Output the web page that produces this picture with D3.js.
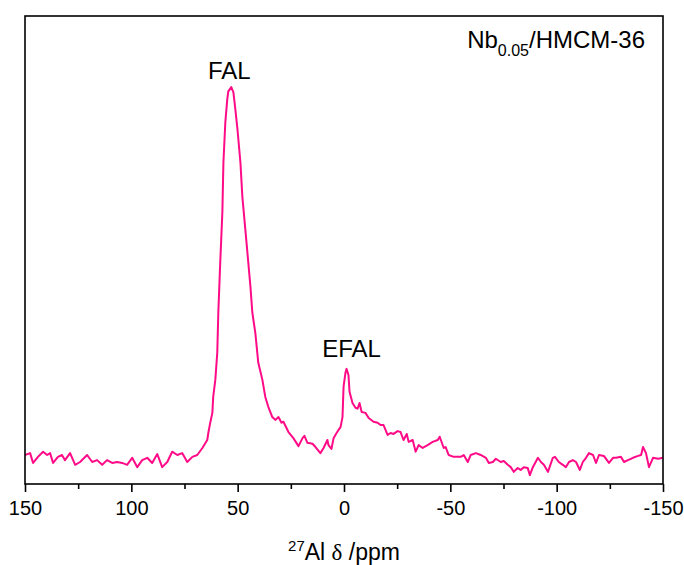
<!DOCTYPE html>
<html>
<head>
<meta charset="utf-8">
<script src="https://cdn.jsdelivr.net/npm/d3@7/dist/d3.min.js"></script>
<style>
  html, body { margin: 0; padding: 0; background: #ffffff; }
  svg { display: block; font-family: "Liberation Sans", Arial, sans-serif; }
</style>
</head>
<body>
<svg id="chart" width="684" height="565"></svg>
<script>
// 27Al MAS NMR spectrum of Nb0.05/HMCM-36
const shiftPpm = [
  150.0, 147.6, 146.2, 143.9, 141.5, 139.6, 138.2, 136.8, 134.5, 132.6,
  131.2, 128.8, 126.4, 124.1, 120.8, 118.4, 116.1, 113.7, 111.4, 109.0,
  106.7, 104.3, 102.0, 99.6, 97.2, 94.9, 92.5, 90.2, 87.8, 85.5,
  83.1, 80.8, 78.4, 76.1, 73.7, 71.3, 69.0, 66.6, 64.3, 63.8,
  62.9, 61.9, 61.5, 60.5, 59.6, 59.1, 58.2, 57.2, 56.7, 55.8,
  54.9, 54.4, 53.0, 52.0, 51.1, 50.1, 48.7, 47.8, 46.4, 45.0,
  44.0, 43.1, 41.7, 40.3, 38.4, 37.0, 35.6, 33.7, 32.2, 30.8,
  29.4, 28.5, 26.1, 23.8, 21.4, 19.5, 18.6, 17.2, 14.8, 13.4,
  11.1, 9.6, 7.8, 7.3, 5.9, 4.9, 3.5, 1.6, 0.7, 0.2,
  -0.7, -1.2, -2.1, -2.6, -4.0, -5.4, -6.4, -7.3, -8.3, -10.1,
  -11.6, -13.9, -15.8, -17.2, -18.6, -20.5, -21.9, -23.3, -25.2, -26.6,
  -28.0, -29.5, -30.4, -32.3, -33.7, -35.1, -37.0, -39.3, -41.7, -44.1,
  -45.0, -46.9, -47.8, -49.2, -51.6, -54.9, -56.3, -58.2, -59.6, -62.0,
  -64.3, -66.7, -68.1, -70.0, -71.4, -73.7, -75.1, -77.0, -78.4, -79.8,
  -81.7, -83.1, -84.5, -86.4, -87.4, -88.8, -91.2, -92.6, -94.0, -95.9,
  -98.2, -99.2, -101.0, -102.9, -104.3, -105.8, -107.6, -109.1, -110.9, -112.3,
  -113.8, -115.2, -117.1, -118.5, -119.9, -122.2, -124.6, -126.5, -127.9, -130.2,
  -131.7, -133.5, -135.9, -138.3, -139.7, -140.6, -142.0, -143.4, -145.3, -147.7,
  -150.0
];
const intensity = [
  6.2, 6.6, 4.5, 5.8, 6.9, 6.2, 6.6, 4.5, 5.8, 6.2,
  5.1, 6.6, 4.1, 4.7, 6.2, 4.7, 5.1, 4.1, 5.1, 4.5,
  4.7, 4.5, 4.1, 5.6, 3.6, 5.1, 5.6, 4.5, 6.4, 3.6,
  4.7, 6.9, 6.2, 6.6, 4.7, 5.8, 6.2, 7.7, 9.4, 10.9,
  13.1, 15.2, 18.6, 22.3, 28.0, 36.6, 47.3, 58.0, 68.7, 77.3,
  82.2, 83.9, 84.8, 83.7, 80.1, 75.8, 68.7, 61.4, 54.4, 47.3,
  42.2, 36.6, 32.3, 25.9, 22.3, 18.6, 16.5, 14.3, 13.7, 14.3,
  13.1, 13.3, 11.1, 9.8, 8.1, 9.8, 10.3, 8.8, 8.6, 7.9,
  6.6, 7.7, 9.4, 8.3, 7.5, 9.8, 10.9, 12.2, 14.3, 20.8,
  23.8, 24.6, 23.3, 19.7, 17.3, 16.3, 16.1, 17.3, 15.4, 15.2,
  14.1, 13.3, 13.1, 12.6, 12.6, 10.5, 10.9, 10.7, 11.3, 11.1,
  9.4, 10.7, 9.0, 9.4, 6.9, 8.3, 7.7, 8.3, 9.0, 9.4,
  10.1, 7.7, 7.9, 6.2, 5.8, 5.8, 6.2, 4.7, 6.2, 6.6,
  6.2, 5.6, 4.5, 4.7, 5.4, 4.7, 4.9, 4.1, 3.6, 2.6,
  3.4, 3.0, 3.6, 3.4, 1.9, 3.6, 5.6, 4.7, 4.1, 2.6,
  5.6, 5.8, 4.7, 4.1, 3.6, 4.7, 5.1, 4.7, 3.0, 4.7,
  5.6, 6.6, 6.2, 4.5, 6.2, 6.0, 4.5, 5.6, 5.6, 5.8,
  4.7, 5.1, 5.6, 6.0, 6.2, 7.9, 6.6, 3.6, 5.6, 5.4,
  5.6
];

const majorTicks = [150, 100, 50, 0, -50, -100, -150];
const minorTicks = [125, 75, 25, -25, -75, -125];

// Peak annotations: label text and the shift of the peak it marks
const peakLabels = ["FAL", "EFAL"];
const peakShifts = [53.0, -1.2];

const sampleName = "Nb";
const sampleSub = "0.05";
const sampleRest = "/HMCM-36";

const lineColor = "#ff0a87";

const svg = d3.select("#chart");
const plot = { left: 25, right: 663, top: 16, bottom: 484 };

const x = d3.scaleLinear().domain([150, -150]).range([plot.left, plot.right]);
const y = d3.scaleLinear().domain([0, 100]).range([plot.bottom, plot.top]);

const points = shiftPpm.map((s, i) => ({ s, v: intensity[i] }));

// Spectrum trace
svg.append("path")
  .datum(points)
  .attr("fill", "none")
  .attr("stroke", lineColor)
  .attr("stroke-width", 2)
  .attr("stroke-linejoin", "round")
  .attr("d", d3.line().x(d => x(d.s)).y(d => y(d.v)));

// Frame
svg.append("rect")
  .attr("x", plot.left).attr("y", plot.top)
  .attr("width", plot.right - plot.left).attr("height", plot.bottom - plot.top)
  .attr("fill", "none").attr("stroke", "#000").attr("stroke-width", 1.6);

// Bottom axis: major ticks with labels, then unlabeled minor ticks
const axisMajor = d3.axisBottom(x).tickValues(majorTicks).tickSize(8).tickPadding(9)
  .tickFormat(d => d < 0 ? "-" + Math.abs(d) : String(d));
const gx = svg.append("g").attr("transform", `translate(0,${plot.bottom})`).call(axisMajor);
gx.select(".domain").remove();
gx.selectAll(".tick line").attr("stroke", "#000").attr("stroke-width", 1.6);
gx.selectAll(".tick text")
  .attr("fill", "#000")
  .style("font-family", "'Liberation Sans', Arial, sans-serif")
  .style("font-size", "20px");

const axisMinor = d3.axisBottom(x).tickValues(minorTicks).tickSize(5).tickFormat("");
const gm = svg.append("g").attr("transform", `translate(0,${plot.bottom})`).call(axisMinor);
gm.select(".domain").remove();
gm.selectAll(".tick line").attr("stroke", "#000").attr("stroke-width", 1.6);

// Axis title: 27Al δ /ppm
const xt = svg.append("text")
  .attr("x", (plot.left + plot.right) / 2)
  .attr("y", 560)
  .attr("text-anchor", "middle")
  .attr("fill", "#000")
  .style("font-size", "23px");
xt.append("tspan").attr("dy", -9).style("font-size", "15px").text("27");
xt.append("tspan").attr("dy", 9).text("Al ");
xt.append("tspan").style("font-family", "'Liberation Serif', 'DejaVu Serif', serif").text("δ");
xt.append("tspan").text(" /ppm");

// Sample name with subscript, right-aligned in the top corner
const title = svg.append("text")
  .attr("x", 645)
  .attr("y", 48)
  .attr("text-anchor", "end")
  .attr("fill", "#000")
  .style("font-size", "24px");
title.append("tspan").text(sampleName);
title.append("tspan").attr("dy", 8).style("font-size", "16px").text(sampleSub);
title.append("tspan").attr("dy", -8).text(sampleRest);

// Peak labels above their maxima
const labelGap = [8, 12];
peakLabels.forEach((lab, i) => {
  const idx = d3.minIndex(shiftPpm, s => Math.abs(s - peakShifts[i]));
  svg.append("text")
    .attr("x", x(shiftPpm[idx]) + (i === 0 ? -2 : 5))
    .attr("y", y(intensity[idx]) - labelGap[i])
    .attr("text-anchor", "middle")
    .attr("fill", "#000")
    .style("font-size", "24px")
    .text(lab);
});
</script>
</body>
</html>
